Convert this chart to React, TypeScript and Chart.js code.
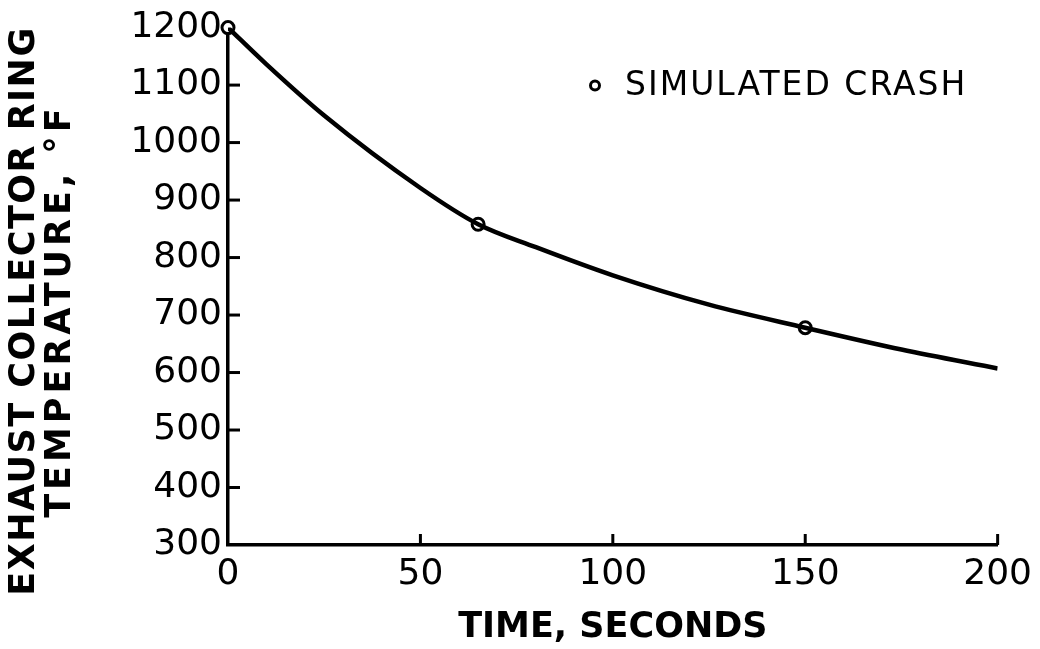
import React, { useEffect, useRef } from 'react';
import { Chart, registerables } from 'chart.js';

Chart.register(...registerables);

// ---- data ----
const curveTime = [0, 10, 25, 50, 65, 80, 100, 125, 150, 175, 200];
const curveTemp = [1200, 1136, 1047, 921, 858, 818, 769, 718, 678, 640, 607];
const crashTime = [0, 65, 150];
const crashTemp = [1200, 858, 678];
const xTickValues = [0, 50, 100, 150, 200];
const yTickValues = [300, 400, 500, 600, 700, 800, 900, 1000, 1100, 1200];
const legendLabel = 'SIMULATED CRASH';
const xTitle = 'TIME, SECONDS';
const yTitleLines = ['EXHAUST COLLECTOR RING', 'TEMPERATURE, °F'];

const FONT = '"DejaVu Sans", sans-serif';

const innerTicks = {
  id: 'innerTicks',
  afterDraw(chart: any) {
    const { ctx, chartArea } = chart;
    const x = chart.scales.x;
    const y = chart.scales.y;
    ctx.save();
    ctx.strokeStyle = '#000';
    ctx.lineWidth = 3;
    ctx.lineCap = 'butt';
    x.ticks.forEach((t: any) => {
      if (t.value === x.min) return;
      const px = x.getPixelForValue(t.value);
      ctx.beginPath();
      ctx.moveTo(px, chartArea.bottom);
      ctx.lineTo(px, chartArea.bottom - 11);
      ctx.stroke();
    });
    y.ticks.forEach((t: any) => {
      if (t.value === y.min || t.value === y.max) return;
      const py = y.getPixelForValue(t.value);
      ctx.beginPath();
      ctx.moveTo(chartArea.left, py);
      ctx.lineTo(chartArea.left + 12, py);
      ctx.stroke();
    });
    ctx.restore();
  },
};

const legendAndTitle = {
  id: 'legendAndTitle',
  afterDraw(chart: any) {
    const { ctx, chartArea } = chart;
    ctx.save();
    // legend
    const lx = chartArea.left + 367;
    const ly = chartArea.top + 58;
    ctx.beginPath();
    ctx.arc(lx, ly, 4.5, 0, Math.PI * 2);
    ctx.fillStyle = '#fff';
    ctx.fill();
    ctx.lineWidth = 3;
    ctx.strokeStyle = '#000';
    ctx.stroke();
    ctx.fillStyle = '#000';
    ctx.font = `33px ${FONT}`;
    (ctx as any).letterSpacing = '2px';
    ctx.textAlign = 'left';
    ctx.textBaseline = 'middle';
    ctx.fillText(legendLabel, lx + 30, ly + 1);

    // y title (two lines, rotated)
    const cy = 311;
    const xs = [25, 61];
    const spacing = ['1.5px', '4px'];
    ctx.font = `bold 35px ${FONT}`;
    ctx.textAlign = 'center';
    yTitleLines.forEach((line, i) => {
      ctx.save();
      ctx.translate(xs[i], cy);
      ctx.rotate(-Math.PI / 2);
      (ctx as any).letterSpacing = spacing[i];
      ctx.fillText(line, 0, 0);
      ctx.restore();
    });
    ctx.restore();
  },
};

export default function App() {
  const ref = useRef<HTMLCanvasElement | null>(null);

  useEffect(() => {
    if (!ref.current) return;
    const chart = new Chart(ref.current, {
      type: 'scatter',
      data: {
        datasets: [
          {
            label: 'curve',
            data: curveTime.map((t, i) => ({ x: t, y: curveTemp[i] })),
            showLine: true,
            borderColor: '#000',
            borderWidth: 4.5,
            pointRadius: 0,
            cubicInterpolationMode: 'monotone',
            fill: false,
          },
          {
            label: legendLabel,
            data: crashTime.map((t, i) => ({ x: t, y: crashTemp[i] })),
            showLine: false,
            pointRadius: 6,
            pointBorderWidth: 3,
            pointBackgroundColor: '#fff',
            pointBorderColor: '#000',
            clip: false,
          } as any,
        ],
      },
      options: {
        animation: false,
        responsive: false,
        layout: { padding: { top: 27, right: 39, left: 0, bottom: 0 } },
        plugins: {
          legend: { display: false },
          tooltip: { enabled: false },
        },
        scales: {
          x: {
            type: 'linear',
            min: 0,
            max: 200,
            afterBuildTicks: (s: any) => {
              s.ticks = xTickValues.map((v) => ({ value: v }));
            },
            afterFit: (s: any) => {
              s.height = 104;
            },
            grid: { display: false, drawTicks: false },
            border: { display: true, width: 3.5, color: '#000' },
            ticks: {
              color: '#000',
              padding: 8,
              maxRotation: 0,
              font: { family: FONT, size: 36 },
              callback: (v: any) => String(v),
            },
            title: {
              display: true,
              text: xTitle,
              color: '#000',
              font: { family: FONT, size: 35, weight: 'bold' },
              padding: { top: 0, bottom: 0 },
            },
          },
          y: {
            type: 'linear',
            min: 300,
            max: 1200,
            afterBuildTicks: (s: any) => {
              s.ticks = yTickValues.map((v) => ({ value: v }));
            },
            afterFit: (s: any) => {
              s.width = 228;
            },
            grid: { display: false, drawTicks: false },
            border: { display: true, width: 3.5, color: '#000' },
            ticks: {
              color: '#000',
              padding: 6,
              font: { family: FONT, size: 36 },
              callback: (v: any) => String(v),
            },
          },
        },
      },
      plugins: [innerTicks, legendAndTitle],
    } as any);
    return () => chart.destroy();
  }, []);

  return (
    <div style={{ position: 'fixed', left: 0, top: 0, width: 1040, height: 649, background: '#fff' }}>
      <canvas ref={ref} width={1040} height={649} style={{ width: 1040, height: 649 }} />
    </div>
  );
}
